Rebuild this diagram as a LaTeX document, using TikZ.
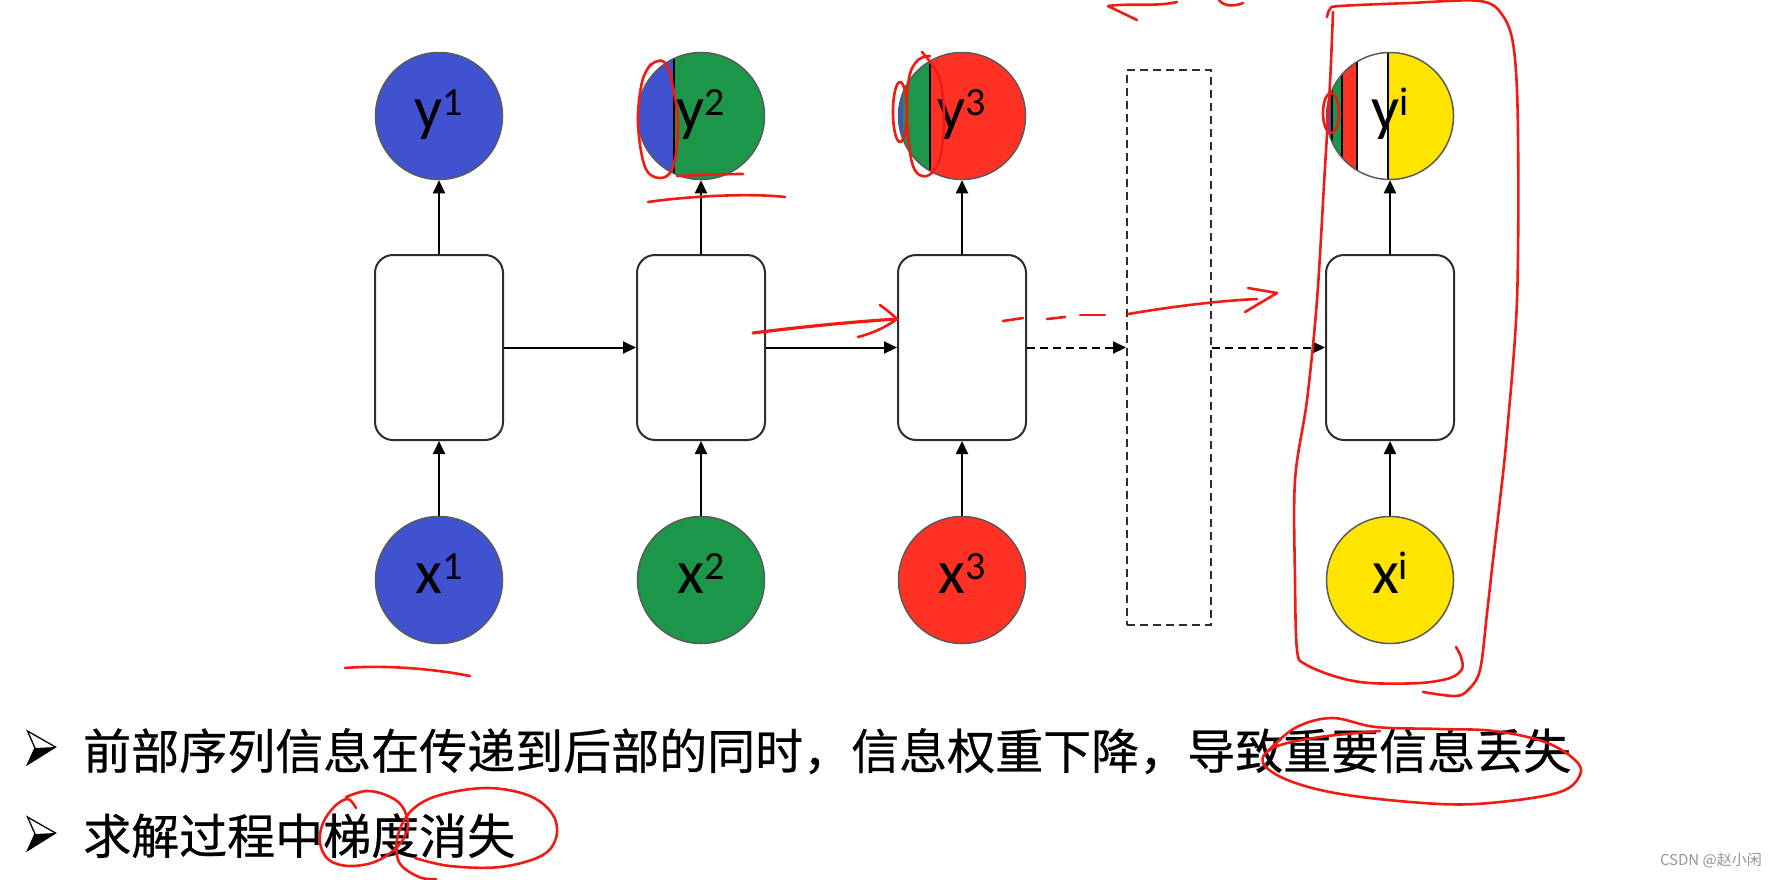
\documentclass[tikz,border=0pt]{standalone}
\usepackage{fontspec}
\newfontfamily\cjk[FakeBold=0.5]{Noto Sans CJK SC}
\newfontfamily\cjkthin{Noto Sans CJK SC}
\newfontfamily\carl{Carlito}
\usetikzlibrary{arrows.meta}
\definecolor{cblue}{RGB}{64,82,208}
\definecolor{cgreen}{RGB}{28,150,72}
\definecolor{cred}{RGB}{255,48,36}
\definecolor{cyellow}{RGB}{255,228,0}
\definecolor{cgray}{RGB}{90,90,90}
\definecolor{cdark}{RGB}{45,45,45}
\definecolor{annred}{RGB}{240,28,20}
\definecolor{wmgray}{RGB}{150,150,150}
\newcommand\circlab[2]{{\carl\fontsize{62}{62}\selectfont #1\raisebox{14pt}{\fontsize{40}{40}\selectfont #2}}}
\begin{document}
\begin{tikzpicture}[x=1pt,y=-1pt,
  circ/.style={circle, draw=cgray, line width=1.5pt, minimum size=127pt, inner sep=0pt, text height=39pt, text depth=12pt},
  cell/.style={draw=cdark, line width=2pt, rounded corners=18pt, minimum width=128pt, minimum height=185pt, inner sep=0pt, fill=white},
  dbox/.style={draw=cdark, line width=2pt, dash pattern=on 8pt off 5pt, minimum width=84pt, minimum height=555pt, inner sep=0pt},
  conn/.style={line width=2pt, -{Triangle[length=13pt,width=12pt]}},
  dconn/.style={conn, dash pattern=on 8pt off 5pt},
  stripe/.style={line width=2pt, black},
  ann/.style={draw=annred, line width=2.6pt, line cap=round, line join=round},
  bodytext/.style={anchor=base west, inner sep=0pt, font=\cjk\fontsize{48}{48}\selectfont},
]
\useasboundingbox (0,0) rectangle (1776,879);
\fill[white] (0,0) rectangle (1776,879);

% ---- stripes of the mixed output circles
\begin{scope}
  \clip (701,116) circle[radius=63.5pt];
  \fill[cblue] (630,40) rectangle (674,190);
  \fill[cgreen] (674,40) rectangle (780,190);
  \draw[stripe] (674,40) -- (674,190);
\end{scope}
\begin{scope}
  \clip (962,116) circle[radius=63.5pt];
  \fill[cblue] (890,40) rectangle (903,190);
  \fill[cgreen] (903,40) rectangle (930,190);
  \fill[cred] (930,40) rectangle (1040,190);
  \draw[stripe] (930,40) -- (930,190);
\end{scope}
\begin{scope}
  \clip (1390,116) circle[radius=63.5pt];
  \fill[cblue] (1320,40) rectangle (1332,190);
  \fill[cgreen] (1332,40) rectangle (1342,190);
  \fill[cred] (1342,40) rectangle (1357,190);
  \fill[white] (1357,40) rectangle (1388,190);
  \fill[cyellow] (1388,40) rectangle (1460,190);
  \draw[black, line width=1.5pt] (1332,40) -- (1332,190);
  \draw[stripe] (1342,40) -- (1342,190);
  \draw[stripe] (1357,40) -- (1357,190);
  \draw[stripe] (1388,40) -- (1388,190);
\end{scope}

% ---- output circles
\node[circ, fill=cblue] (y1) at (439,116) {\circlab{y}{1}};
\node[circ] (y2) at (701,116) {\circlab{y}{2}};
\node[circ] (y3) at (962,116) {\circlab{y}{3}};
\node[circ] (yi) at (1390,116) {\circlab{y}{i}};

% ---- cells
\node[cell] (h1) at (439,347.5) {};
\node[cell] (h2) at (701,347.5) {};
\node[cell] (h3) at (962,347.5) {};
\node[dbox] (db) at (1169,347.5) {};
\node[cell] (hi) at (1390,347.5) {};

% ---- input circles
\node[circ, fill=cblue] (x1) at (439,580) {\circlab{x}{1}};
\node[circ, fill=cgreen] (x2) at (701,580) {\circlab{x}{2}};
\node[circ, fill=cred] (x3) at (962,580) {\circlab{x}{3}};
\node[circ, fill=cyellow] (xi) at (1390,580) {\circlab{x}{i}};

% ---- connectors
\draw[conn] (x1) -- (h1);
\draw[conn] (x2) -- (h2);
\draw[conn] (x3) -- (h3);
\draw[conn] (xi) -- (hi);
\draw[conn] (h1) -- (y1);
\draw[conn] (h2) -- (y2);
\draw[conn] (h3) -- (y3);
\draw[conn] (hi) -- (yi);
\draw[conn] (h1) -- (h2);
\draw[conn] (h2) -- (h3);
\draw[dconn] (h3) -- (db);
\draw[dconn] (db) -- (hi);

% ---- bullets and text
\fill[black] (35,748) -- (55.5,747) -- (27.5,764.5) -- cycle;
\draw[black, line width=1.3pt, line join=miter] (27.5,731) -- (55.5,747) -- (27.5,764.5) -- (35,748) -- cycle;
\fill[black] (35,834) -- (55.5,833) -- (27.5,850.5) -- cycle;
\draw[black, line width=1.3pt, line join=miter] (27.5,817) -- (55.5,833) -- (27.5,850.5) -- (35,834) -- cycle;
\node[bodytext] (l1) at (83,769) {前部序列信息在传递到后部的同时，信息权重下降，导致重要信息丢失};
\node[bodytext] (l2) at (83,854) {求解过程中梯度消失};
\node[anchor=base east, inner sep=0pt, text=wmgray, font=\cjkthin\fontsize{15}{15}\selectfont] (wm) at (1762,865) {CSDN @赵小闲};

% ---- red hand annotations
\draw[ann] (1137,20) -- (1108,6) .. controls (1130,3) and (1155,7) .. (1177,2);
\draw[ann] (1219,0) .. controls (1223,6) and (1234,7) .. (1243,3);
\draw[ann] plot[smooth, tension=0.55] coordinates {(1327,17) (1330,9) (1340,6) (1410,3) (1480,1) (1503,16) (1514,50) (1518,133) (1517,300) (1507,433) (1500,500) (1493,560) (1487,613) (1480,670) (1468,690) (1455,696) (1423,692)};
\draw[ann] plot[smooth, tension=0.55] coordinates {(1333,12) (1330,83) (1325,167) (1317,300) (1307,400) (1295,480) (1295,580) (1297,650) (1305,664) (1337,677) (1370,683) (1420,683) (1450,678) (1462,669) (1461,657) (1456,647)};
\draw[ann] plot[smooth, tension=0.6] coordinates {(1266,753) (1295,728) (1332,718) (1376,727) (1440,729) (1494,731) (1545,742) (1575,760) (1580,775) (1560,792) (1500,802) (1440,804) (1347,795) (1290,781) (1263,763) (1275,747) (1320,737) (1380,731)};
\draw[ann] plot[smooth, tension=0.6] coordinates {(356,808) (348,799) (335,806) (323,823) (320,843) (329,860) (350,866) (377,861) (399,845) (408,826) (402,806) (386,795) (366,791) (346,797)};
\draw[ann] plot[smooth, tension=0.6] coordinates {(436,879) (419,877) (399,862) (398,835) (412,810) (440,795) (488,788) (530,796) (553,815) (556,838) (541,856) (500,867) (450,866) (415,858)};
\draw[ann] (345,668) .. controls (380,665) and (430,668) .. (470,676);
\draw[ann] plot[smooth, tension=0.6] coordinates {(648,68) (655,62) (664,62) (671,78) (678,123) (673,167) (660,178) (645,167) (638,123) (642,82) (651,64)};
\draw[ann] (677,176) .. controls (700,175) and (725,174) .. (743,174);
\draw[ann] (648,202) .. controls (690,196) and (750,193) .. (785,197);
\draw[ann] (900,112) ellipse[x radius=7pt, y radius=30pt];
\draw[ann] plot[smooth, tension=0.6] coordinates {(922,52) (930,62) (940,80) (944,115) (940,158) (927,176) (913,166) (907,120) (909,78) (918,60) (930,56)};
\draw[ann] (1331,113) ellipse[x radius=8pt, y radius=20pt];
\draw[ann, line width=3.2pt] (753,333) .. controls (800,327) and (850,322) .. (897,319);
\draw[ann] (880,305) .. controls (888,311) and (893,315) .. (897,319) .. controls (885,328) and (870,334) .. (858,337);
\draw[ann] (1003,321) -- (1023,318);
\draw[ann] (1047,319) -- (1065,317);
\draw[ann] (1080,315) -- (1105,315);
\draw[ann] (1128,314) .. controls (1170,307) and (1215,301) .. (1257,299);
\draw[ann] (1248,288) -- (1277,293) -- (1245,312);
\end{tikzpicture}
\end{document}
